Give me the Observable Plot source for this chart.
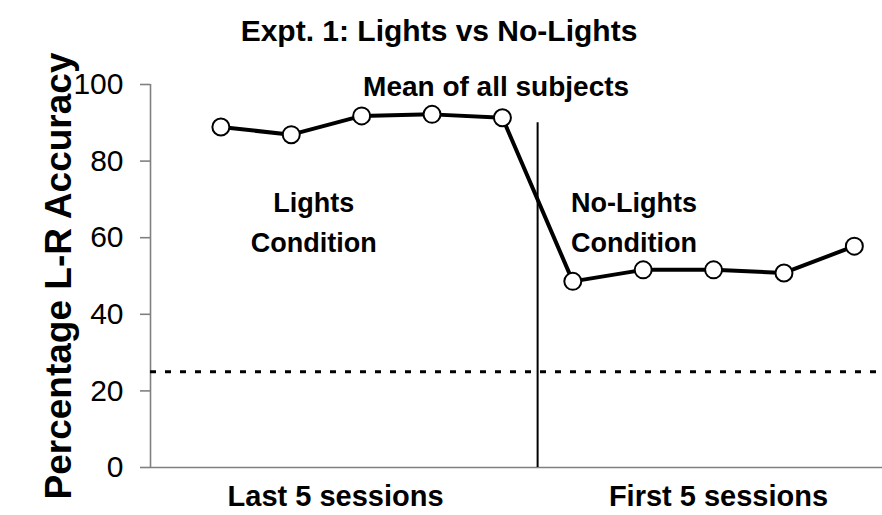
<!DOCTYPE html>
<html>
<head>
<meta charset="utf-8">
<script src="https://cdn.jsdelivr.net/npm/d3@7"></script>
<script src="https://cdn.jsdelivr.net/npm/@observablehq/plot@0.6"></script>
<style>
  html, body { margin: 0; padding: 0; background: #fff; }
  #chart { width: 882px; height: 515px; }
</style>
</head>
<body>
<div id="chart"></div>
<script>
// ---- data ----
const sessionIndex = [1, 2, 3, 4, 5, 6, 7, 8, 9, 10];
const accuracy = [88.9, 86.9, 91.8, 92.2, 91.3, 48.6, 51.6, 51.6, 50.8, 57.8];
const yTicks = [0, 20, 40, 60, 80, 100];
const chanceLevel = [25];
const dividerAt = [5.5];
const dividerTop = 90;
const phaseLabels = ["Last 5 sessions", "First 5 sessions"];
const phaseCenters = [2.63, 8.07];
const conditionLabels = ["Lights\nCondition", "No-Lights\nCondition"];
const conditionX = [2.32, 6.87];
const conditionY = 64.8;
const titleText = "Expt. 1: Lights vs No-Lights";
const subtitleText = "Mean of all subjects";
const yLabel = "Percentage L-R Accuracy";

const points = sessionIndex.map((s, i) => ({s, v: accuracy[i]}));
const font = "'Liberation Sans', Arial, Helvetica, sans-serif";
const gray = "#808080";

const chart = Plot.plot({
  width: 882,
  height: 515,
  marginLeft: 150,
  marginRight: 0,
  marginTop: 84,
  marginBottom: 48,
  x: {domain: [0, 10.4], axis: null},
  y: {domain: [0, 100], axis: null},
  style: {fontFamily: font, background: "#fff", color: "#000", overflow: "visible"},
  marks: [
    Plot.ruleX([0], {stroke: gray, strokeWidth: 1.6}),
    Plot.ruleY([0], {stroke: gray, strokeWidth: 1.6}),
    Plot.axisY({ticks: yTicks, tickSize: 10, tickPadding: 17, stroke: gray, strokeWidth: 1.6,
                fill: "#000", fontSize: 30, label: null, tickFormat: d => String(d)}),
    Plot.ruleY(chanceLevel, {stroke: "#000", strokeWidth: 3, strokeDasharray: "6,9"}),
    Plot.ruleX(dividerAt, {y1: 0, y2: dividerTop, stroke: "#000", strokeWidth: 2}),
    Plot.line(points, {x: "s", y: "v", stroke: "#000", strokeWidth: 4}),
    Plot.dot(points, {x: "s", y: "v", r: 8.5, fill: "#fff", stroke: "#000", strokeWidth: 2}),
    Plot.text(conditionLabels, {x: (d, i) => conditionX[i], y: () => conditionY, text: d => d,
              fontSize: 27, fontWeight: "bold", lineHeight: 1.48, fill: "#000"}),
    Plot.text([subtitleText], {x: () => 4.91, y: () => 99.3, text: d => d,
              fontSize: 28, fontWeight: "bold", fill: "#000"}),
    Plot.text([titleText], {frameAnchor: "top", dx: -77.5, dy: -65, text: d => d,
              fontSize: 30, fontWeight: "bold", fill: "#000"}),
    Plot.text(phaseLabels, {x: (d, i) => phaseCenters[i], frameAnchor: "bottom", dy: 38, text: d => d,
              fontSize: 29, fontWeight: "bold", fill: "#000"}),
    Plot.text([yLabel], {frameAnchor: "left", textAnchor: "middle", dx: -91.5, rotate: -90, text: d => d,
              fontSize: 37, fontWeight: "bold", fill: "#000"})
  ]
});
document.getElementById("chart").appendChild(chart);
</script>
</body>
</html>
